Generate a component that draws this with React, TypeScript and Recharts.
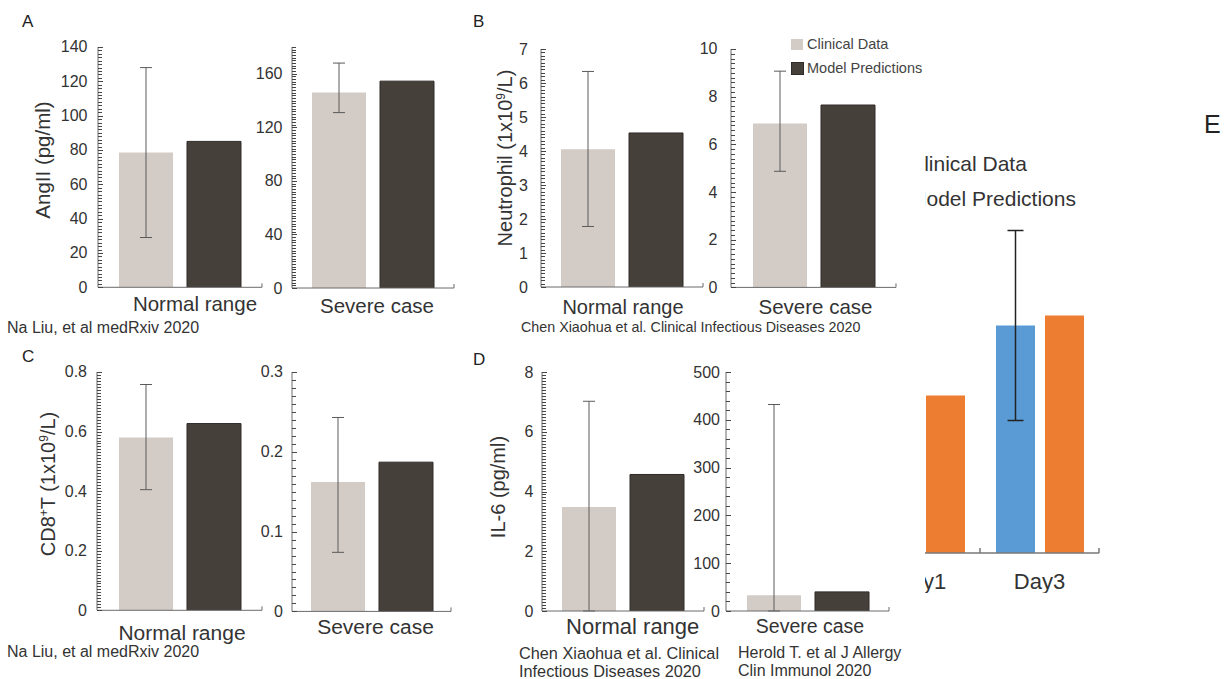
import React from 'react';
import { BarChart, Bar, XAxis, YAxis, ErrorBar } from 'recharts';

const FONT = '"Liberation Sans", Arial, Helvetica, sans-serif';
const LIGHT = '#d3cbc6';
const DARK = '#46403b';
const AXIS = '#6a6a6a';
const TEXT = '#333333';

// categories and series
const groups = ['Normal range', 'Severe case'];
const seriesNames = ['Clinical Data', 'Model Predictions'];

// A: AngII (pg/ml)
const angIIClinical = [78.5, 146];
const angIIModel = [85, 154.5];
const angIIErrLow = [49.5, 15];
const angIIErrHigh = [49.5, 22];
const angIITicks = [[0, 20, 40, 60, 80, 100, 120, 140], [0, 40, 80, 120, 160]];
const angIIMax = [140, 180];

// B: Neutrophil (1x10^9/L)
const neutClinical = [4.05, 6.87];
const neutModel = [4.53, 7.65];
const neutErrLow = [2.27, 2.0];
const neutErrHigh = [2.29, 2.2];
const neutTicks = [[0, 1, 2, 3, 4, 5, 6, 7], [0, 2, 4, 6, 8, 10]];
const neutMax = [7, 10];

// C: CD8+ T (1x10^9/L)
const cd8Clinical = [0.58, 0.162];
const cd8Model = [0.627, 0.187];
const cd8ErrLow = [0.175, 0.088];
const cd8ErrHigh = [0.178, 0.081];
const cd8Ticks = [[0, 0.2, 0.4, 0.6, 0.8], [0, 0.1, 0.2, 0.3]];
const cd8Max = [0.8, 0.3];

// D: IL-6 (pg/ml)
const il6Clinical = [3.48, 33];
const il6Model = [4.57, 40];
const il6ErrLow = [3.48, 33];
const il6ErrHigh = [3.54, 399];
const il6Ticks = [[0, 2, 4, 6, 8], [0, 100, 200, 300, 400, 500]];
const il6Max = [8, 500];

// E (cropped at the right edge)
const days = ['Day1', 'Day3'];
const dayClinical = [3.0, 4.55];
const dayModel = [3.15, 4.75];
const dayErr = [1.2, 1.9];
const dayMax = 7;

function minorTicks(max: number, step: number) {
  const n = Math.round(max / step);
  const out: number[] = [];
  for (let i = 0; i <= n; i++) out.push(+(i * step).toFixed(6));
  return out;
}

interface Layout {
  axisX: number; top: number; zero: number; plotW: number;
  dx: number; dy: number; size: number; gap: number; minor: number;
}

interface PanelProps {
  layout: Layout;
  category: string;
  clinical: number;
  model: number;
  errLow: number;
  errHigh: number;
  majors: number[];
  max: number;
}

function SmallBar({ layout, category, clinical, model, errLow, errHigh, majors, max }: PanelProps) {
  const plotH = layout.zero - layout.top;
  const data = [{ name: category, clinical, model, err: [errLow, errHigh] }];
  const ticks = minorTicks(max, layout.minor);
  const half = layout.plotW / 2;

  const yTick = (p: any) => {
    const v = p.payload.value;
    const major = majors.find((m) => Math.abs(m - v) < 1e-6);
    const isMajor = major !== undefined;
    const y = Math.round(p.y) + 0.5;
    return (
      <g>
        <line x1={p.x} x2={p.x + (isMajor ? 5 : 4)} y1={y} y2={y} stroke="#444" strokeWidth={1} />
        {isMajor && (
          <text x={p.x - layout.gap} y={p.y} textAnchor="end" dominantBaseline="central"
            fontSize={16} fill={TEXT} fontFamily={FONT}>{String(major)}</text>
        )}
      </g>
    );
  };

  const xTick = (p: any) => (
    <g>
      <line x1={p.x + half} x2={p.x + half} y1={p.y} y2={p.y - 4} stroke={AXIS} />
      <text x={p.x + layout.dx} y={p.y + layout.dy} textAnchor="middle" dominantBaseline="central"
        fontSize={layout.size} fill={TEXT} fontFamily={FONT}>{p.payload.value}</text>
    </g>
  );

  return (
    <div style={{ position: 'absolute', left: layout.axisX - 50, top: layout.top - 10 }}>
      <BarChart width={50 + layout.plotW + 5} height={10 + plotH + 40} data={data}
        margin={{ top: 10, right: 5, bottom: 0, left: 0 }} barSize={54} barGap={14}>
        <XAxis dataKey="name" height={40} stroke={AXIS} tickLine={false} tickSize={0} tickMargin={0}
          interval={0} tick={xTick} />
        <YAxis type="number" domain={[0, max]} allowDataOverflow ticks={ticks} interval={0} width={50}
          stroke={AXIS} tickLine={false} tickSize={0} tickMargin={0} tick={yTick} />
        <Bar dataKey="clinical" name={seriesNames[0]} fill={LIGHT} isAnimationActive={false}>
          <ErrorBar dataKey="err" width={6} stroke="#5a5a5a" strokeWidth={1} />
        </Bar>
        <Bar dataKey="model" name={seriesNames[1]} fill={DARK} stroke="#2f2b28" strokeWidth={1}
          isAnimationActive={false} />
      </BarChart>
    </div>
  );
}

function Txt({ x, y, size, align = 'left', color = TEXT, children }: any) {
  const tx = align === 'center' ? '-50%' : align === 'right' ? '-100%' : '0';
  return (
    <div style={{
      position: 'absolute', left: x, top: y, transform: `translate(${tx}, -50%)`,
      fontSize: size, lineHeight: 1, whiteSpace: 'nowrap', color,
    }}>{children}</div>
  );
}

function VTxt({ x, y, size, children }: any) {
  return (
    <div style={{
      position: 'absolute', left: x, top: y, transform: 'translate(-50%, -50%) rotate(-90deg)',
      fontSize: size, lineHeight: 1, whiteSpace: 'nowrap', color: TEXT,
    }}>{children}</div>
  );
}

const supStyle: React.CSSProperties = { fontSize: '0.6em', verticalAlign: '0.55em' };

// panel placement: [normal, severe]
const layoutA: Layout[] = [
  { axisX: 98, top: 47, zero: 287.3, plotW: 164, dx: 15, dy: 16, size: 20.5, gap: 10.5, minor: 2 },
  { axisX: 291.7, top: 46.7, zero: 287.7, plotW: 162, dx: 4, dy: 17, size: 20.5, gap: 9.5, minor: 2 },
];
const layoutB: Layout[] = [
  { axisX: 541, top: 49.3, zero: 287.3, plotW: 162, dx: 1, dy: 20, size: 20, gap: 13, minor: 0.1 },
  { axisX: 730.7, top: 49.3, zero: 287.7, plotW: 165, dx: 2, dy: 19, size: 20.5, gap: 13.5, minor: 0.2 },
];
const layoutC: Layout[] = [
  { axisX: 97.3, top: 371.7, zero: 610, plotW: 165, dx: 2.5, dy: 22.5, size: 21, gap: 10, minor: 0.01 },
  { axisX: 292.3, top: 372.3, zero: 611.7, plotW: 159, dx: 4, dy: 15, size: 21, gap: 9, minor: 0.01 },
];
const layoutD: Layout[] = [
  { axisX: 541.7, top: 371.7, zero: 610.7, plotW: 162, dx: 9.7, dy: 15, size: 22, gap: 8.7, minor: 0.1 },
  { axisX: 726, top: 371.7, zero: 610.7, plotW: 163, dx: 2.5, dy: 15, size: 19.5, gap: 6, minor: 20 },
];

function Pair({ layouts, clinical, model, errLow, errHigh, ticks, max }: any) {
  return (
    <>
      {groups.map((g, i) => (
        <SmallBar key={g} layout={layouts[i]} category={g} clinical={clinical[i]} model={model[i]}
          errLow={errLow[i]} errHigh={errHigh[i]} majors={ticks[i]} max={max[i]} />
      ))}
    </>
  );
}

function DayChart() {
  const data = days.map((d, i) => ({ name: d, clinical: dayClinical[i], model: dayModel[i], err: dayErr[i] }));
  const plotW = 238;
  const half = plotW / days.length / 2;
  const xTick = (p: any) => (
    <g>
      <line x1={p.x + half} x2={p.x + half} y1={p.y} y2={p.y - 5} stroke="#777" strokeWidth={1.5} />
      <text x={p.x} y={p.y + 28} textAnchor="middle" dominantBaseline="central" fontSize={22}
        fill={TEXT} fontFamily={FONT}>{p.payload.value}</text>
    </g>
  );
  return (
    <div style={{ position: 'absolute', left: 861 - 925, top: 553.3 - 350 - 10 }}>
      <BarChart width={plotW + 5} height={10 + 350 + 40} data={data}
        margin={{ top: 10, right: 5, bottom: 0, left: 0 }} barSize={39} barGap={10}>
        <XAxis dataKey="name" height={40} stroke="#777" strokeWidth={1.5} tickLine={false} tickSize={0}
          tickMargin={0} interval={0} tick={xTick} />
        <YAxis type="number" domain={[0, dayMax]} hide />
        <Bar dataKey="clinical" fill="#5b9bd5" isAnimationActive={false}>
          <ErrorBar dataKey="err" width={8} stroke="#222" strokeWidth={1.5} />
        </Bar>
        <Bar dataKey="model" fill="#ed7d31" isAnimationActive={false} />
      </BarChart>
    </div>
  );
}

export default function App() {
  return (
    <div style={{
      position: 'absolute', left: 0, top: 0, width: 1225, height: 679, background: '#fff',
      overflow: 'hidden', fontFamily: FONT,
    }}>
      {/* panel letters */}
      <Txt x={22} y={21} size={17} color="#222">A</Txt>
      <Txt x={473} y={21} size={17} color="#222">B</Txt>
      <Txt x={22} y={356} size={17} color="#222">C</Txt>
      <Txt x={473} y={359} size={17} color="#222">D</Txt>

      {/* y axis titles */}
      <VTxt x={43.3} y={159.5} size={20.5}>AngII (pg/ml)</VTxt>
      <VTxt x={505} y={157.5} size={20}>Neutrophil (1x10<span style={supStyle}>9</span>/L)</VTxt>
      <VTxt x={48.3} y={484} size={20}>CD8<span style={supStyle}>+</span>T (1x10<span style={supStyle}>9</span>/L)</VTxt>
      <VTxt x={498} y={487} size={20}>IL-6 (pg/ml)</VTxt>

      <Pair layouts={layoutA} clinical={angIIClinical} model={angIIModel} errLow={angIIErrLow}
        errHigh={angIIErrHigh} ticks={angIITicks} max={angIIMax} />
      <Pair layouts={layoutB} clinical={neutClinical} model={neutModel} errLow={neutErrLow}
        errHigh={neutErrHigh} ticks={neutTicks} max={neutMax} />
      <Pair layouts={layoutC} clinical={cd8Clinical} model={cd8Model} errLow={cd8ErrLow}
        errHigh={cd8ErrHigh} ticks={cd8Ticks} max={cd8Max} />
      <Pair layouts={layoutD} clinical={il6Clinical} model={il6Model} errLow={il6ErrLow}
        errHigh={il6ErrHigh} ticks={il6Ticks} max={il6Max} />

      {/* legend of panel B */}
      <div style={{ position: 'absolute', left: 791, top: 38.5, width: 12, height: 11, background: LIGHT }} />
      <Txt x={807} y={44} size={14.5} color="#444">{seriesNames[0]}</Txt>
      <div style={{ position: 'absolute', left: 791, top: 62, width: 11, height: 11, background: DARK, border: '0.5px solid #2f2b28' }} />
      <Txt x={807} y={68} size={14.5} color="#444">{seriesNames[1]}</Txt>

      {/* sources */}
      <Txt x={7} y={328} size={16}>Na Liu, et al medRxiv 2020</Txt>
      <Txt x={521} y={327} size={14.3}>Chen Xiaohua et al. Clinical Infectious Diseases 2020</Txt>
      <Txt x={7} y={652} size={16}>Na Liu, et al medRxiv 2020</Txt>
      <Txt x={519} y={652.5} size={16.3}>Chen Xiaohua et al. Clinical</Txt>
      <Txt x={519} y={671} size={16.3}>Infectious Diseases 2020</Txt>
      <Txt x={738} y={652.5} size={16}>Herold T. et al J Allergy</Txt>
      <Txt x={738} y={671} size={16}>Clin Immunol 2020</Txt>

      {/* cropped panel E */}
      <div style={{ position: 'absolute', left: 925, top: 0, width: 300, height: 679, overflow: 'hidden' }}>
        <Txt x={-16} y={163} size={21}>{seriesNames[0]}</Txt>
        <Txt x={-16} y={198} size={21}>{seriesNames[1]}</Txt>
        <DayChart />
      </div>
      <Txt x={1204} y={124} size={25} color="#222">E</Txt>
    </div>
  );
}
